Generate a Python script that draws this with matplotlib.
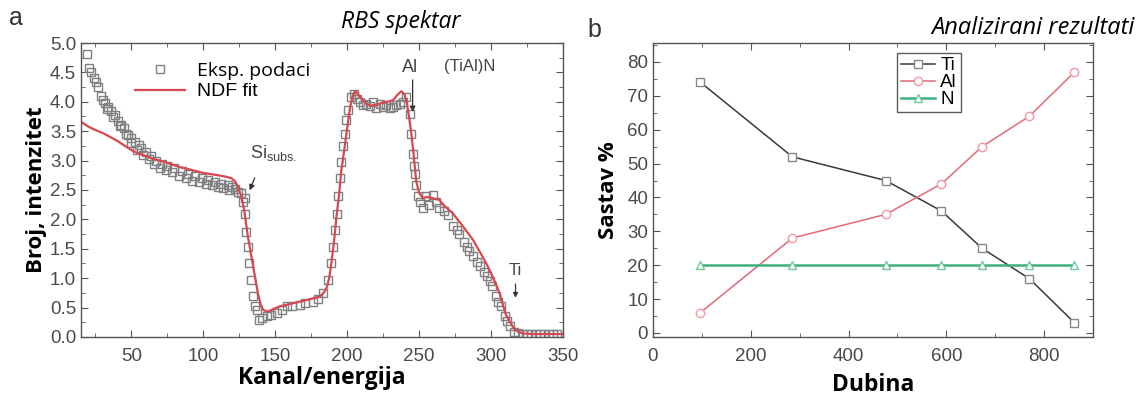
import matplotlib.pyplot as plt
from matplotlib.ticker import MultipleLocator

# RBS spectrum - experimental points (channel, intensity)
eksp_kanal = [19, 20.5, 22, 24, 25.5, 27, 29, 30.5, 32, 34, 36, 38.5, 41, 43, 45, 48, 50, 52.5,
              55, 57, 60, 64, 67, 71, 75, 80, 85, 89.5, 94, 99, 103, 108, 112, 117, 120, 124, 126, 129,
              33, 37, 42, 46, 50, 54, 58, 62, 66, 70, 74, 78, 83, 88, 92, 97, 102, 106, 110, 114, 118, 122,
              127.7, 129, 130, 131, 132, 133.5, 134.7, 136, 137, 139, 141, 144, 147, 151, 155, 158, 162,
              167, 171, 176, 180, 183, 187, 189, 190, 191.4, 192.6, 193.7, 194.8, 196, 197, 198.3, 199.5,
              200.6, 203, 205, 207, 208.7, 211, 213.4, 216, 218, 220, 222.6, 225, 227, 230, 232, 234,
              236.5, 239, 241, 243.5, 244.6, 245.7, 246.5, 247, 248, 249, 250.4, 252.7, 255, 257, 260,
              262, 264, 267, 270, 273.5, 276, 278, 281, 283, 285, 287.5, 290, 292, 295, 297, 299, 301,
              303.6, 305, 307, 309.4, 311, 313, 316, 319, 322, 325, 328, 331, 334, 337, 340, 343, 346]
eksp_broj = [4.81, 4.57, 4.50, 4.40, 4.33, 4.25, 4.10, 4.03, 3.98, 3.92, 3.85, 3.78, 3.68, 3.61, 3.55,
             3.44, 3.38, 3.32, 3.26, 3.21, 3.14, 3.07, 3.00, 2.95, 2.91, 2.87, 2.82, 2.78, 2.74, 2.70,
             2.67, 2.64, 2.61, 2.58, 2.55, 2.47, 2.45, 2.36,
             3.88, 3.74, 3.58, 3.45, 3.30, 3.18, 3.10, 3.02, 2.95, 2.88, 2.84, 2.80, 2.74, 2.70, 2.66,
             2.64, 2.60, 2.58, 2.55, 2.53, 2.50, 2.52,
             2.30, 2.10, 1.79, 1.53, 1.25, 0.97, 0.69, 0.52, 0.46, 0.29, 0.32, 0.35, 0.37, 0.40, 0.46,
             0.52, 0.52, 0.54, 0.57, 0.60, 0.65, 0.74, 0.97, 1.25, 1.53, 1.82, 2.10, 2.39, 2.70, 2.98,
             3.24, 3.46, 3.69, 3.86, 4.09, 4.14, 4.05, 4.00, 3.95, 3.97, 3.93, 4.00, 3.90, 3.97, 3.92,
             3.95, 3.90, 3.92, 3.95, 3.97, 4.00, 4.09, 3.80, 3.46, 3.12, 2.90, 2.78, 2.58, 2.40, 2.30,
             2.20, 2.39, 2.24, 2.41, 2.30, 2.19, 2.15, 2.07, 1.88, 1.82, 1.76, 1.62, 1.53, 1.47, 1.37,
             1.28, 1.20, 1.10, 1.03, 0.95, 0.86, 0.69, 0.60, 0.52, 0.35, 0.27, 0.18, 0.09, 0.06, 0.05,
             0.05, 0.05, 0.05, 0.05, 0.05, 0.05, 0.05, 0.05]

# NDF fit curve
fit_kanal = [15, 20, 25, 30, 34, 40, 45, 50, 55, 60, 65, 70, 75, 80, 85, 92, 100, 108, 115, 119.6,
             122, 124, 126.6, 128.5, 131, 134.7, 138, 140, 141.6, 145, 149, 153, 160, 167, 174, 181,
             184, 185.6, 187.5, 189, 191, 192.6, 194.5, 196, 198, 200, 202, 204, 205.5, 207, 210, 213,
             216.5, 220, 224, 228, 232, 235, 237.7, 240, 241.5, 243, 244.6, 246, 247, 248, 250, 252.7,
             255, 258, 261, 264, 268, 273.5, 280.5, 287.5, 294, 298, 301, 304, 306, 308, 310, 312, 315,
             318, 322, 329, 350]
fit_broj = [3.66, 3.58, 3.52, 3.47, 3.42, 3.34, 3.26, 3.18, 3.12, 3.08, 3.03, 3.00, 2.96, 2.92, 2.88,
            2.84, 2.79, 2.76, 2.73, 2.70, 2.65, 2.56, 2.38, 2.15, 1.71, 1.20, 0.74, 0.55, 0.46, 0.43,
            0.48, 0.52, 0.56, 0.60, 0.64, 0.69, 0.76, 0.83, 1.00, 1.25, 1.65, 2.05, 2.45, 2.84, 3.18,
            3.55, 3.90, 4.12, 4.18, 4.15, 4.05, 3.97, 3.93, 3.95, 3.98, 4.00, 4.03, 4.12, 4.18, 4.12,
            3.97, 3.75, 3.46, 3.15, 2.90, 2.65, 2.45, 2.36, 2.38, 2.37, 2.35, 2.33, 2.22, 2.10, 1.88,
            1.65, 1.37, 1.19, 1.03, 0.86, 0.74, 0.57, 0.40, 0.30, 0.18, 0.10, 0.06, 0.05, 0.05]

# analysed composition vs depth
dubina = [97, 285, 476, 590, 673, 770, 862]
ti = [74, 52, 45, 36, 25, 16, 3]
al = [6, 28, 35, 44, 55, 64, 77]
n = [20, 20, 20, 20, 20, 20, 20]

plt.rcParams['font.family'] = ['Liberation Sans', 'DejaVu Sans']
axc = '#555555'

fig = plt.figure(figsize=(11.45, 4.03), dpi=100)
ax1 = fig.add_axes([0.0707, 0.1638, 0.421, 0.7295])
ax2 = fig.add_axes([0.5703, 0.1638, 0.3843, 0.7295])


def style(ax):
    for s in ax.spines.values():
        s.set_color(axc)
        s.set_linewidth(1.0)
    ax.tick_params(which='both', direction='in', top=True, right=True, color=axc,
                   labelcolor='#4a4a4a', labelsize=13.5)
    ax.tick_params(which='major', length=5)
    ax.tick_params(which='minor', length=3)
    ax.tick_params(axis='x', pad=8)


# --- panel a ---
ax1.plot(eksp_kanal, eksp_broj, ls='none', marker='s', ms=6.2, mfc='none', mec='#808080', mew=1.0,
         label='Eksp. podaci')
ax1.plot(fit_kanal, fit_broj, color='#d9474f', lw=1.6, label='NDF fit')
ax1.set_xlim(15, 350)
ax1.set_ylim(0, 5.0)
ax1.xaxis.set_major_locator(MultipleLocator(50))
ax1.xaxis.set_minor_locator(MultipleLocator(25))
ax1.yaxis.set_major_locator(MultipleLocator(0.5))
ax1.yaxis.set_minor_locator(MultipleLocator(0.25))
style(ax1)
ax1.set_xlabel('Kanal/energija', fontsize=16.5, fontweight='bold', family='Open Sans', labelpad=1)
ax1.set_ylabel('Broj, intenzitet', fontsize=16, fontweight='bold', family='Open Sans', labelpad=2)
leg1 = ax1.legend(loc='upper left', bbox_to_anchor=(0.075, 0.995), frameon=False, fontsize=14,
                  handlelength=2.6, labelspacing=0.15, handletextpad=0.6)
leg1.get_texts()[0].set_family('Open Sans')

ax1.annotate('', xy=(131.5, 2.45), xytext=(136.5, 2.75),
             arrowprops=dict(arrowstyle='-|>', color='#333333', lw=0.9, mutation_scale=8))
ax1.text(149, 3.05, 'Si$_{\\mathregular{subs.}}$', fontsize=13, color='#444444', ha='center')
ax1.annotate('', xy=(245.5, 3.78), xytext=(245.5, 4.42),
             arrowprops=dict(arrowstyle='-|>', color='#333333', lw=0.9, mutation_scale=8))
ax1.text(244, 4.5, 'Al', fontsize=13, color='#444444', ha='center')
ax1.text(285, 4.52, '(TiAl)N', fontsize=12, color='#444444', ha='center')
ax1.annotate('', xy=(317, 0.62), xytext=(317, 0.95),
             arrowprops=dict(arrowstyle='-|>', color='#333333', lw=0.9, mutation_scale=7))
ax1.text(317, 1.05, 'Ti', fontsize=12, color='#444444', ha='center')

fig.text(0.008, 0.955, 'a', fontsize=18, color='#333333', ha='left', va='center')
fig.text(0.35, 0.945, 'RBS spektar', fontsize=16.5, style='italic', family='Open Sans',
         ha='center', va='center')

# --- panel b ---
ax2.plot(dubina, ti, color='#3a3a3a', lw=1.1, marker='s', ms=6, mfc='white', mec='#888888',
         mew=1.0, label='Ti')
ax2.plot(dubina, al, color='#e06a78', lw=1.1, marker='o', ms=6, mfc='white', mec='#ee9aa5',
         mew=1.0, label='Al')
ax2.plot(dubina, n, color='#3daf7a', lw=1.8, marker='^', ms=6, mfc='white', mec='#70c89c',
         mew=1.0, label='N')
ax2.set_xlim(0, 900)
ax2.set_ylim(-1.2, 85.6)
ax2.xaxis.set_major_locator(MultipleLocator(200))
ax2.xaxis.set_minor_locator(MultipleLocator(100))
ax2.yaxis.set_major_locator(MultipleLocator(10))
ax2.yaxis.set_minor_locator(MultipleLocator(5))
style(ax2)
ax2.set_xlabel('Dubina', fontsize=16.5, fontweight='bold', family='Open Sans', labelpad=6)
ax2.set_ylabel('Sastav %', fontsize=16, fontweight='bold', family='Open Sans', labelpad=6)
leg = ax2.legend(loc='upper left', bbox_to_anchor=(0.555, 0.965), fontsize=13.5, fancybox=False,
                 edgecolor='#333333', handlelength=1.8, labelspacing=0.0, handletextpad=0.3,
                 borderpad=0.2, borderaxespad=0)
leg.get_frame().set_linewidth(1.0)

fig.text(0.513, 0.925, 'b', fontsize=18, color='#333333', ha='left', va='center')
fig.text(0.991, 0.93, 'Analizirani rezultati', fontsize=17, style='italic', family='Open Sans',
         ha='right', va='center')

fig.savefig('out.png', dpi=100)
